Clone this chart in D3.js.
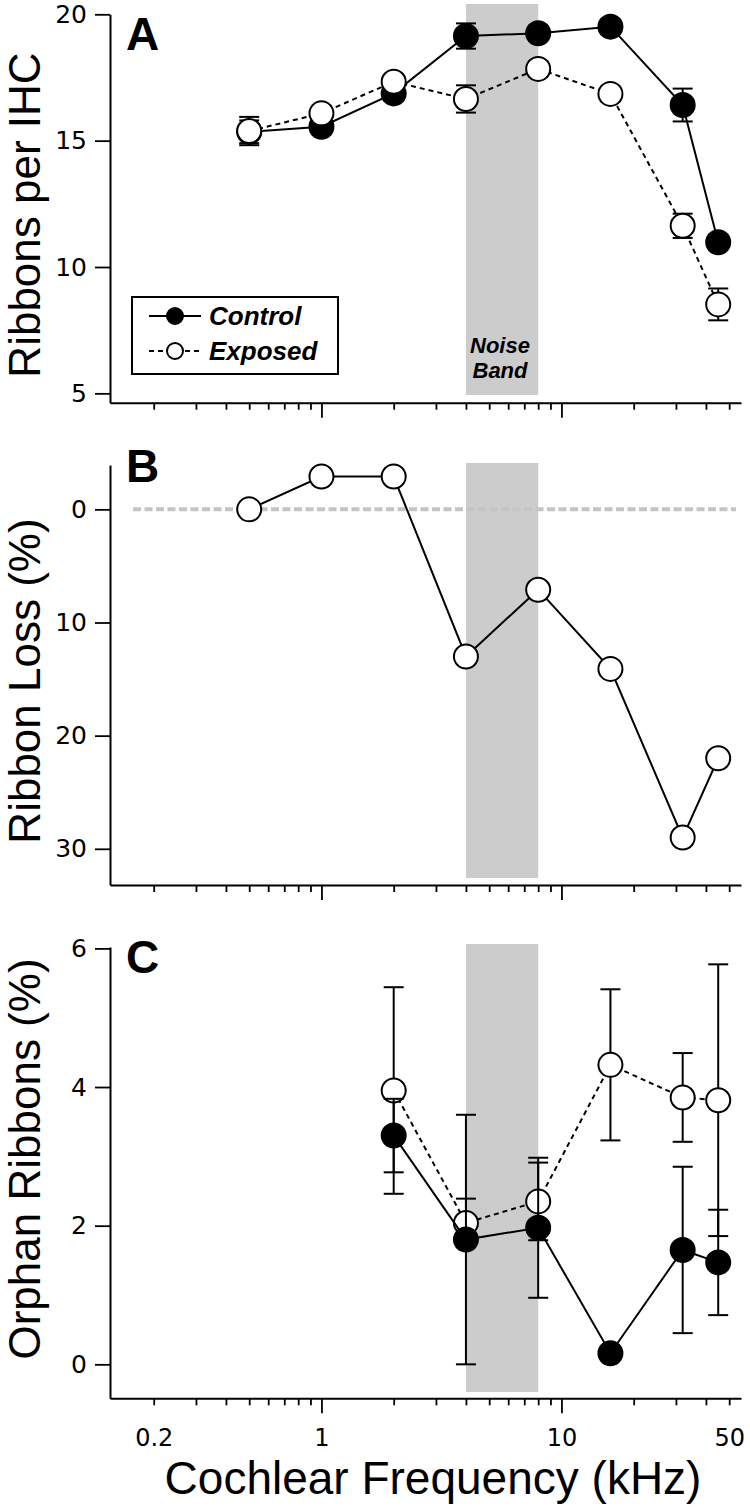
<!DOCTYPE html>
<html>
<head>
<meta charset="utf-8">
<script src="https://cdn.jsdelivr.net/npm/d3@7"></script>
<style>
  body { margin: 0; background: #fff; }
  svg { display: block; font-family: "Liberation Sans", Arial, sans-serif; }
  .axis path, .axis line { stroke: #000; }
  .axis path { stroke-width: 2; }
  .axis line { stroke-width: 1.8; }
</style>
</head>
<body>
<svg id="chart" width="750" height="1507"></svg>
<script>
// frequencies (kHz)
var freqs = [0.5, 1, 2, 4, 8, 16, 32, 45];
var orphanFreqs = [2, 4, 8, 16, 32, 45];
var noiseBand = [4, 8];

// A: ribbons per IHC
var controlRibbons = [15.35, 15.55, 16.87, 19.14, 19.25, 19.51, 16.41, 10.98];
var controlRibbonsErr = [0.45, 0.3, 0.3, 0.5, 0.3, 0.3, 0.65, 0.3];
var exposedRibbons = [15.38, 16.08, 17.33, 16.65, 17.84, 16.85, 11.63, 8.52];
var exposedRibbonsErr = [0.56, 0.3, 0.3, 0.54, 0.3, 0.3, 0.48, 0.63];

// B: ribbon loss (%)
var ribbonLoss = [0, -2.9, -2.9, 13.0, 7.1, 14.1, 29.0, 22.0];

// C: orphan ribbons (%)
var controlOrphan = [3.30, 1.80, 1.97, 0.16, 1.65, 1.47];
var controlOrphanErr = [0.53, 1.80, 1.01, 0.1, 1.20, 0.76];
var exposedOrphan = [3.95, 2.04, 2.35, 4.32, 3.85, 3.81];
var exposedOrphanErr = [1.49, 0.35, 0.56, 1.09, 0.64, 1.96];

// ticks
var majorTicks = [1, 10];
var minorTicks = [0.2, 0.3, 0.4, 0.5, 0.6, 0.7, 0.8, 0.9, 2, 3, 4, 5, 6, 7, 8, 9, 20, 30, 40, 50];
var xTickLabels = [0.2, 1, 10, 50];
var yTicksA = [5, 10, 15, 20];
var yTicksB = [0, 10, 20, 30];
var yTicksC = [0, 2, 4, 6];

var svg = d3.select('#chart');
var font = '"Liberation Sans", Arial, sans-serif';
var tickFont = '"DejaVu Sans", Verdana, sans-serif';

var x = d3.scaleLog().domain([0.1315, 56]).range([110, 741]);

var panels = [
	{ key: 'A', domain: [4.63, 20], range: [402.7, 14.3], ticks: yTicksA, title: 'Ribbons per IHC', titleY: 215, letterY: 50, bandTop: 4, bandBottom: 395 },
	{ key: 'B', domain: [-3.92, 33.2], range: [465, 885], ticks: yTicksB, title: 'Ribbon Loss (%)', titleY: 681, letterY: 482, bandTop: 463, bandBottom: 878 },
	{ key: 'C', domain: [-0.49, 6.02], range: [1398.3, 947], ticks: yTicksC, title: 'Orphan Ribbons (%)', titleY: 1159, letterY: 973, bandTop: 944, bandBottom: 1392 }
];

function styleTicks(sel, size) {
	sel.selectAll('text')
		.attr('fill', '#000')
		.style('font-family', tickFont)
		.style('font-size', size + 'px');
}

panels.forEach(function(p) {
	p.y = d3.scaleLinear().domain(p.domain).range(p.range);
	p.axisY = Math.max(p.range[0], p.range[1]);
	p.g = svg.append('g').attr('class', 'panel-' + p.key);

	// noise band
	p.g.append('rect')
		.attr('x', x(noiseBand[0]))
		.attr('y', p.bandTop)
		.attr('width', x(noiseBand[1]) - x(noiseBand[0]))
		.attr('height', p.bandBottom - p.bandTop)
		.attr('fill', '#cccccc');

	// y axis
	var ya = p.g.append('g')
		.attr('class', 'axis')
		.attr('transform', 'translate(110,0)')
		.call(d3.axisLeft(p.y).tickValues(p.ticks).tickSize(15).tickSizeOuter(0).tickPadding(8).tickFormat(d3.format('d')));
	styleTicks(ya, 25);

	// x axis: minor and major ticks
	p.g.append('g')
		.attr('class', 'axis')
		.attr('transform', 'translate(0,' + p.axisY + ')')
		.call(d3.axisBottom(x).tickValues(minorTicks).tickSize(7).tickSizeOuter(0).tickFormat(''));
	p.g.append('g')
		.attr('class', 'axis')
		.attr('transform', 'translate(0,' + p.axisY + ')')
		.call(d3.axisBottom(x).tickValues(majorTicks).tickSize(15).tickSizeOuter(0).tickFormat(''))
		.select('.domain').remove();

	// y title
	svg.append('text')
		.attr('transform', 'translate(40,' + p.titleY + ') rotate(-90)')
		.attr('text-anchor', 'middle')
		.style('font-family', font)
		.style('font-size', '44px')
		.text(p.title);

	// panel letter
	svg.append('text')
		.attr('x', 126)
		.attr('y', p.letterY)
		.style('font-family', font)
		.style('font-size', '46px')
		.style('font-weight', 'bold')
		.text(p.key);
});

var pA = panels[0], pB = panels[1], pC = panels[2];

// x tick labels (bottom panel only)
var lbl = pC.g.append('g')
	.attr('class', 'axis')
	.attr('transform', 'translate(0,' + pC.axisY + ')')
	.call(d3.axisBottom(x).tickValues(xTickLabels).tickSize(0).tickPadding(31).tickFormat(function(d) { return String(d); }));
lbl.select('.domain').remove();
styleTicks(lbl, 24);

svg.append('text')
	.attr('x', 433)
	.attr('y', 1494)
	.attr('text-anchor', 'middle')
	.style('font-family', font)
	.style('font-size', '46px')
	.text('Cochlear Frequency (kHz)');

// Noise Band label
['Noise', 'Band'].forEach(function(word, i) {
	svg.append('text')
		.attr('x', 500)
		.attr('y', 353 + i * 25)
		.attr('text-anchor', 'middle')
		.style('font-family', font)
		.style('font-size', '22px')
		.style('font-weight', 'bold')
		.style('font-style', 'italic')
		.text(word);
});

// zero line in B
pB.g.append('line')
	.attr('x1', 133).attr('x2', 736)
	.attr('y1', pB.y(0)).attr('y2', pB.y(0))
	.attr('stroke', '#c4c4c4')
	.attr('stroke-width', 4)
	.attr('stroke-dasharray', '8,3.5');

function drawSeries(p, xs, ys, errs, filled) {
	var g = p.g.append('g');
	var pts = xs.map(function(f, i) { return { f: f, v: ys[i], e: errs ? errs[i] : 0 }; });
	if (errs) {
		var eb = g.selectAll('.err').data(pts).enter().append('g')
			.attr('stroke', '#000').attr('stroke-width', 2);
		eb.append('line')
			.attr('x1', function(d) { return x(d.f); }).attr('x2', function(d) { return x(d.f); })
			.attr('y1', function(d) { return p.y(d.v - d.e); }).attr('y2', function(d) { return p.y(d.v + d.e); });
		[-1, 1].forEach(function(s) {
			eb.append('line')
				.attr('x1', function(d) { return x(d.f) - 10; }).attr('x2', function(d) { return x(d.f) + 10; })
				.attr('y1', function(d) { return p.y(d.v + s * d.e); }).attr('y2', function(d) { return p.y(d.v + s * d.e); });
		});
	}
	var line = d3.line().x(function(d) { return x(d.f); }).y(function(d) { return p.y(d.v); });
	g.append('path')
		.datum(pts)
		.attr('d', line)
		.attr('fill', 'none')
		.attr('stroke', '#000')
		.attr('stroke-width', 2)
		.attr('stroke-dasharray', filled ? null : '5,4');
	g.selectAll('circle').data(pts).enter().append('circle')
		.attr('cx', function(d) { return x(d.f); })
		.attr('cy', function(d) { return p.y(d.v); })
		.attr('r', 12)
		.attr('fill', filled ? '#000' : '#fff')
		.attr('stroke', '#000')
		.attr('stroke-width', 2);
}

// A: control under exposed
drawSeries(pA, freqs, controlRibbons, controlRibbonsErr, true);
drawSeries(pA, freqs, exposedRibbons, exposedRibbonsErr, false);

// B: loss, open markers, solid line
(function() {
	var g = pB.g.append('g');
	var pts = freqs.map(function(f, i) { return { f: f, v: ribbonLoss[i] }; });
	g.append('path')
		.datum(pts)
		.attr('d', d3.line().x(function(d) { return x(d.f); }).y(function(d) { return pB.y(d.v); }))
		.attr('fill', 'none').attr('stroke', '#000').attr('stroke-width', 2);
	g.selectAll('circle').data(pts).enter().append('circle')
		.attr('cx', function(d) { return x(d.f); })
		.attr('cy', function(d) { return pB.y(d.v); })
		.attr('r', 12).attr('fill', '#fff').attr('stroke', '#000').attr('stroke-width', 2);
})();

// C: exposed under control
drawSeries(pC, orphanFreqs, exposedOrphan, exposedOrphanErr, false);
drawSeries(pC, orphanFreqs, controlOrphan, controlOrphanErr, true);

// legend
var lg = svg.append('g');
lg.append('rect')
	.attr('x', 132).attr('y', 297).attr('width', 206).attr('height', 77)
	.attr('fill', '#fff').attr('stroke', '#000').attr('stroke-width', 2);
[{ label: 'Control', filled: true, y: 316 }, { label: 'Exposed', filled: false, y: 351 }].forEach(function(r) {
	lg.append('line')
		.attr('x1', 149).attr('x2', 201).attr('y1', r.y).attr('y2', r.y)
		.attr('stroke', '#000').attr('stroke-width', 2)
		.attr('stroke-dasharray', r.filled ? null : '5,4');
	lg.append('circle')
		.attr('cx', 175).attr('cy', r.y).attr('r', 8)
		.attr('fill', r.filled ? '#000' : '#fff')
		.attr('stroke', '#000').attr('stroke-width', 2);
	lg.append('text')
		.attr('x', 209).attr('y', r.y + 9)
		.style('font-family', font)
		.style('font-size', '26px')
		.style('font-weight', 'bold')
		.style('font-style', 'italic')
		.text(r.label);
});
</script>
</body>
</html>
